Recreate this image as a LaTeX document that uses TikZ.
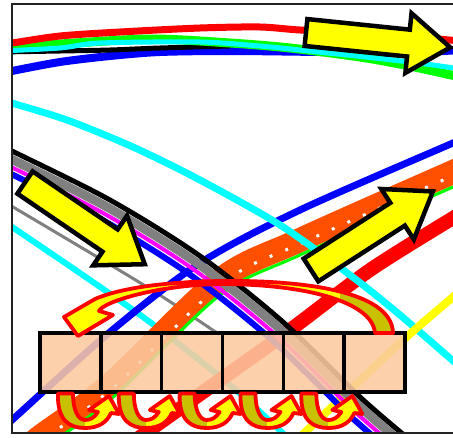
\documentclass[tikz,border=0pt]{standalone}
\definecolor{orng}{RGB}{255,80,0}
\definecolor{peach}{RGB}{251,202,160}
\definecolor{olv}{RGB}{200,192,0}
\definecolor{frm}{RGB}{35,35,35}
\definecolor{cyn}{RGB}{0,255,255}
\definecolor{mgt}{RGB}{255,0,255}
\definecolor{ylw}{RGB}{255,255,0}
\definecolor{grn}{RGB}{0,255,0}
\definecolor{blu}{RGB}{0,0,255}
\definecolor{rd}{RGB}{255,0,0}
\definecolor{gry}{RGB}{128,128,128}
\def\upath{(18,1.5) .. controls (17,29) and (30,36) .. (45,36) .. controls (59,36) and (67,30) .. (71,21) -- (79,22) -- (69,4) -- (49,18) -- (58,20) .. controls (54,26) and (50,28) .. (45,28) .. controls (38,28) and (33,18) .. (33,1.5) -- cycle}
\def\bigpath{(393,333) .. controls (392,288) and (290,280) .. (220,281) .. controls (160,282) and (118,289) .. (95,299) -- (64,317) -- (78,336) -- (113,315) -- (99,311) .. controls (104,301) and (160,285) .. (220,284) .. controls (300,284) and (372,300) .. (375,333) -- cycle}
\tikzset{
  wire/.style={line width=#1, line join=round},
  cell/.style={draw=black, line width=3.5, fill=peach, fill opacity=0.88, minimum width=60.8pt, minimum height=59pt, inner sep=0pt, outer sep=0pt},
  barrow/.pic={\draw[fill=ylw, line width=4.5, line join=miter] (0,-13.5) -- (103,-13.5) -- (103,-30) -- (145,0) -- (103,30) -- (103,13.5) -- (0,13.5) -- cycle;},
  uarrow/.pic={
    \fill[ylw] \upath;
    \begin{scope}\clip \upath; \fill[olv] (0,0) rectangle (45,40); \end{scope}
    \draw[rd, line width=3.8, line join=round] \upath;
  }
}
\begin{document}
\begin{tikzpicture}[x=1pt,y=-1pt]
\useasboundingbox (0,0) rectangle (453,437);
\fill[white] (0,0) rectangle (453,437);
\begin{scope}
\clip (12,4) rectangle (470,433);
% top arcs
\draw[blu, wire=8] plot[smooth] coordinates {(0,74) (12,71) (60,62) (110,56) (160,52) (230,51) (320,52) (400,53) (460,50)};
\draw[black, wire=5] plot[smooth] coordinates {(0,52) (60,51) (110,50) (160,48) (230,46)};
\draw[grn, wire=9] plot[smooth] coordinates {(0,48) (12,47) (60,44) (150,39) (230,43) (290,48) (360,57) (410,66) (460,77)};
\draw[cyn, wire=5] plot[smooth] coordinates {(0,51) (60,48) (100,43) (200,42) (260,46) (300,50) (410,62) (460,69)};
\draw[rd, wire=7] plot[smooth] coordinates {(0,44) (12,43) (60,36) (120,32) (200,28) (260,27) (300,30) (380,34) (460,41)};
% lower lines
\draw[cyn, wire=6] plot[smooth] coordinates {(0,222) (12,227) (143,317) (230,385) (290,440)};
\draw[gry, wire=3] plot[smooth] coordinates {(0,200) (13,207) (147,287) (220,335)};
\draw[blu, wire=7] plot[smooth] coordinates {(0,430) (12,420) (110,332) (200,263) (300,210) (453,143) (470,136)};
\draw[orng, wire=24] plot[smooth] coordinates {(30,447) (40,437) (110,385) (220,280) (300,240) (453,172) (470,165)};
\draw[white, line width=3, dash pattern=on 3pt off 14pt] plot[smooth] coordinates {(34,449) (44,439) (114,387) (224,282) (304,242) (457,174)};
\draw[grn, wire=3] plot[smooth] coordinates {(40,450) (110,400) (220,295) (300,255) (453,187) (470,180)};
\draw[rd, wire=14] plot[smooth] coordinates {(130,445) (140,437) (220,380) (290,330) (370,270) (453,218) (470,208)};
\draw[cyn, wire=7] plot[smooth] coordinates {(0,98) (12,103) (67,120) (133,147) (200,180) (280,225) (350,275) (400,315) (460,367)};
\draw[ylw, wire=8] plot[smooth] coordinates {(290,445) (300,437) (400,343) (453,297) (470,282)};
% black bundle
\begin{scope}[shift={(-11,18)}]
\draw[blu, wire=6] plot[smooth] coordinates {(0,145) (12,151) (110,200) (200,256) (283,322) (360,397) (410,440)};
\end{scope}
\begin{scope}[shift={(-7,13)}]
\draw[mgt, wire=4] plot[smooth] coordinates {(0,145) (12,151) (110,200) (200,256) (283,322) (360,397) (410,440)};
\end{scope}
\begin{scope}[shift={(-3,7)}]
\draw[gry, wire=9] plot[smooth] coordinates {(0,145) (12,151) (110,200) (200,256) (283,322) (360,397) (410,440)};
\end{scope}
\draw[black, wire=5] plot[smooth] coordinates {(0,145) (12,151) (110,200) (200,256) (283,322) (360,397) (410,440)};
\end{scope}
% block arrows
\pic[rotate=-5.9] at (306,32.5) {barrow};
\pic[rotate=-34.3] at (25,182.5) {barrow};
\pic[rotate=32.8] at (311,270) {barrow};
% cells
\foreach \i in {1,...,6} {
  \node[cell] (c\i) at ({40+60.83*(\i-0.5)},362.5) {};
}
% big curved arrow
\fill[ylw] \bigpath;
\begin{scope}\clip \bigpath; \fill[olv] (340,270) rectangle (400,340); \end{scope}
\draw[rd, line width=3.8, line join=round] \bigpath;
% small U arrows
\foreach \i in {0,...,4} {
  \pic at ({40+60.83*\i},392) {uarrow};
}
% frame
\draw[frm, line width=2] (12,4) rectangle (470,433);
\end{tikzpicture}
\end{document}
